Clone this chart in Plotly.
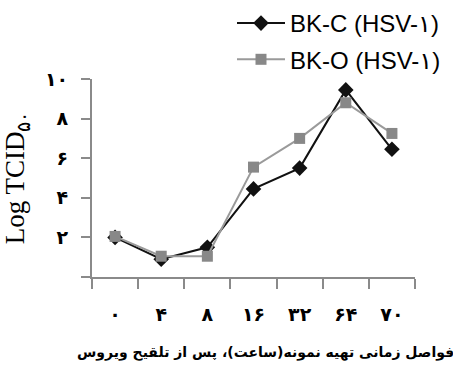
import plotly.graph_objects as go

# Sampling times (hours after inoculation), Persian digits
categories = ['۰', '۴', '۸', '۱۶', '۳۲', '۶۴', '۷۰']
# Log TCID50 titres
bk_c = [2.0, 0.9, 1.5, 4.45, 5.5, 9.45, 6.45]
bk_o = [2.05, 1.05, 1.05, 5.55, 7.0, 8.8, 7.25]
y_tickvals = [0, 2, 4, 6, 8, 10]
y_ticktext = ['', '۲', '۴', '۶', '۸', '۱۰']

x_title_words = ['فواصل', 'زمانی', 'تهیه', 'نمونه(ساعت)،', 'پس', 'از', 'تلقیح', 'ویروس']
# words laid out left to right, each word embedded right-to-left
x_title = '\u202a' + ' '.join('\u202b' + w + '\u202c' for w in x_title_words) + '\u202c'

fig = go.Figure()
fig.add_trace(go.Scatter(
    x=categories, y=bk_c, name='BK-C (HSV-۱)', mode='lines+markers',
    legendgroup='c',
    line=dict(color='#111111', width=2),
    marker=dict(symbol='diamond', size=12, color='#111111'),
))
fig.add_trace(go.Scatter(
    x=categories, y=bk_o, name='BK-O (HSV-۱)', mode='lines+markers',
    legendgroup='o',
    line=dict(color='#9a9a9a', width=2),
    marker=dict(symbol='square', size=11, color='#888888'),
))

axis_color = '#8a8a8a'
fig.update_layout(
    width=453, height=369,
    margin=dict(l=92, r=38, t=79, b=92, autoexpand=False),
    paper_bgcolor='white', plot_bgcolor='white',
    font=dict(family='DejaVu Sans', color='#000000'),
    showlegend=True,
    legend=dict(
        x=(232 - 92) / 323, y=1 + 78 / 198, xanchor='left', yanchor='top',
        font=dict(family='Liberation Sans, Arial, DejaVu Sans', size=24, color='#000000'),
        bgcolor='rgba(0,0,0,0)', traceorder='grouped', tracegroupgap=2,
        itemwidth=48,
    ),
    xaxis=dict(
        type='category', range=[-0.5, 6.5],
        showline=True, linecolor=axis_color, linewidth=2,
        ticks='outside', tickson='boundaries', ticklen=10, tickcolor=axis_color, tickwidth=1.5,
        showgrid=False, zeroline=False, tickangle=0,
        tickfont=dict(family='DejaVu Sans', size=19, color='#000000', weight='bold'),
        ticklabelstandoff=19,
    ),
    yaxis=dict(
        range=[0, 10], tickvals=y_tickvals, ticktext=y_ticktext,
        showline=True, linecolor=axis_color, linewidth=2,
        ticks='outside', ticklen=9, tickcolor=axis_color, tickwidth=1.5,
        showgrid=False, zeroline=False,
        tickfont=dict(family='DejaVu Sans', size=19, color='#000000', weight='bold'),
        ticklabelstandoff=9,
        title=dict(text='Log TCID<sub>۵۰</sub>',
                   font=dict(family='Liberation Serif, Times New Roman, serif', size=27, color='#000000'),
                   standoff=14),
    ),
)

fig.add_annotation(
    text=x_title, xref='paper', yref='paper', x=(265 - 92) / 323, y=-(352 - 277) / 198,
    xanchor='center', yanchor='middle', showarrow=False,
    font=dict(family='DejaVu Sans', size=14, color='#000000', weight='bold'),
)

fig.write_html('out.html')
